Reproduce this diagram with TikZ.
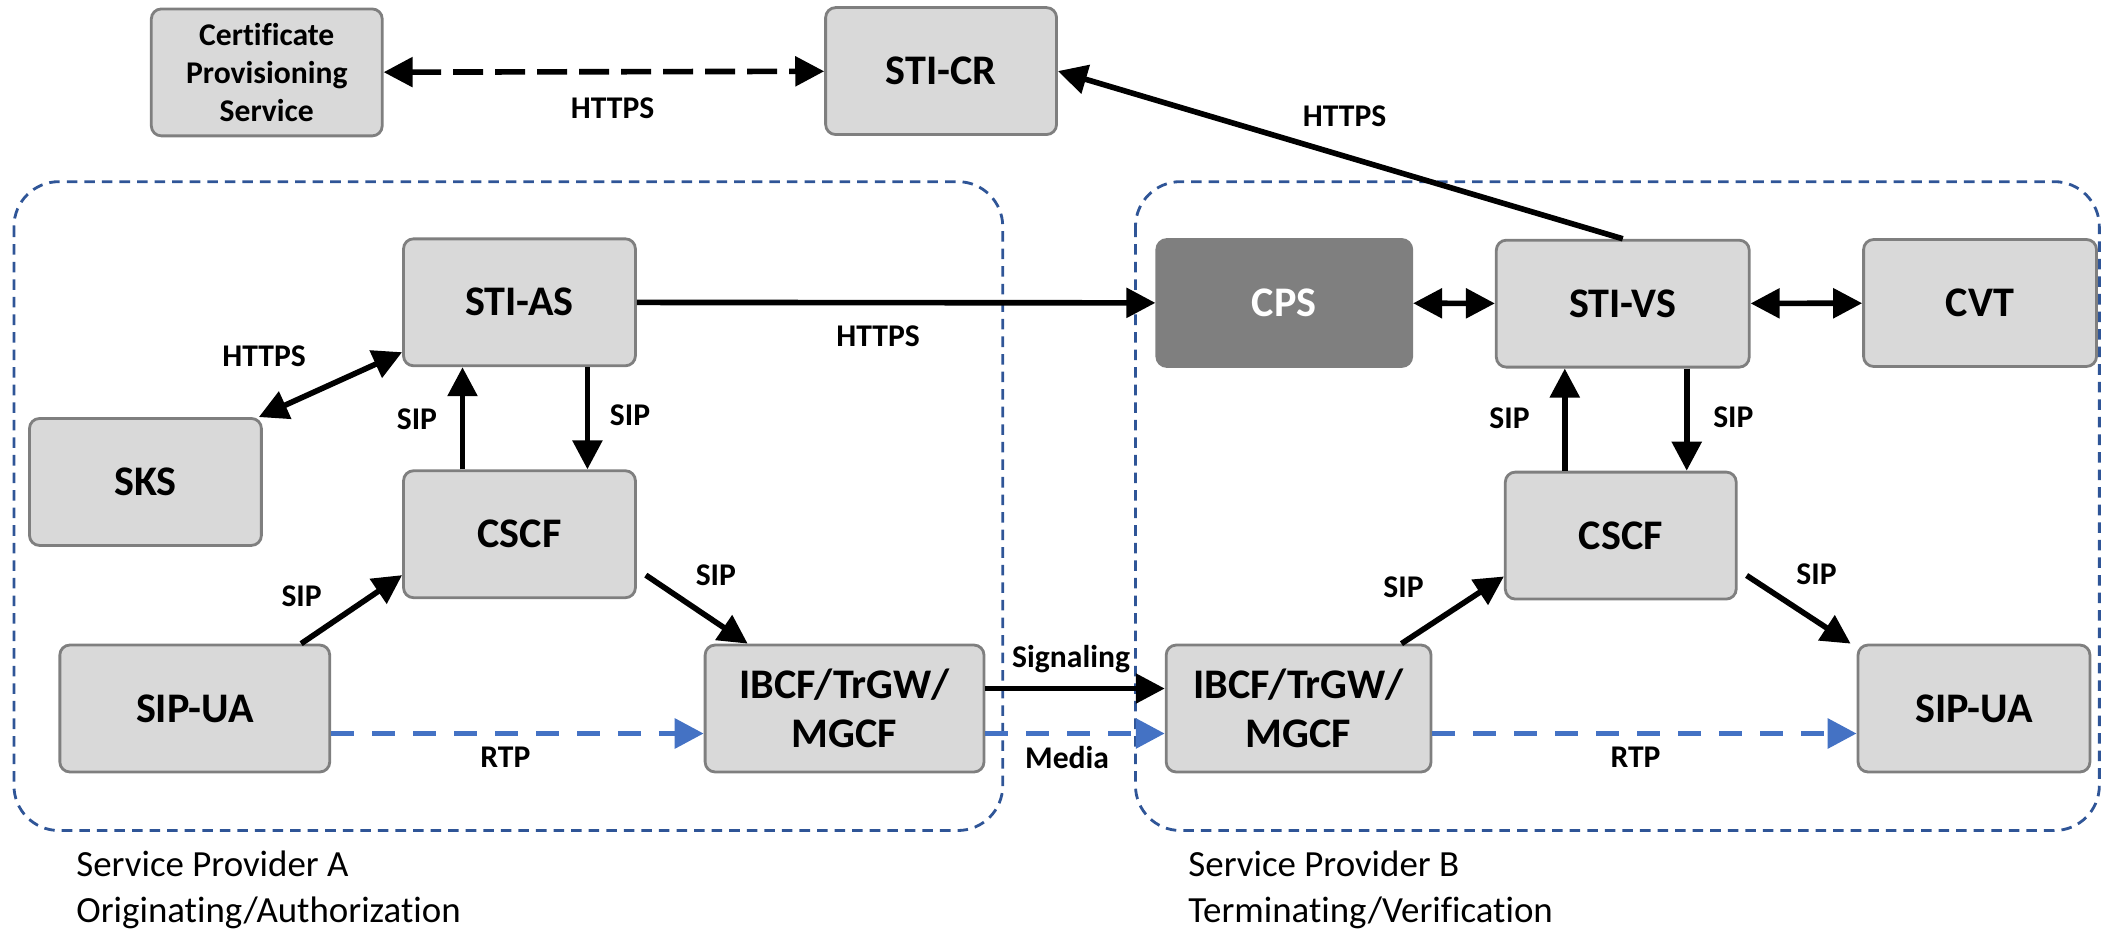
\documentclass[tikz,border=0pt]{standalone}
\usepackage{fontspec}
\setmainfont{Carlito}[Ligatures=NoCommon]
\usetikzlibrary{arrows.meta}
\definecolor{boxfill}{HTML}{D9D9D9}
\definecolor{boxline}{HTML}{7F7F7F}
\definecolor{cpsfill}{HTML}{7F7F7F}
\definecolor{bordoregione}{HTML}{2F5597}
\definecolor{blumedia}{HTML}{4472C4}

\begin{document}
\begin{tikzpicture}[x=0.013406cm, y=-0.013406cm, >={Triangle[length=0.29cm,width=0.29cm]},
    blocco/.style={draw=boxline, fill=boxfill, line width=0.8pt, rounded corners=0.1cm,
        minimum height=1.27cm, inner sep=0pt, align=center,
        font=\fontsize{12}{14}\selectfont\bfseries},
    etichetta/.style={inner sep=0pt, font=\fontsize{9}{11}\selectfont\bfseries},
    link/.style={line width=1.6pt},
    tratteggio/.style={line width=1.6pt, dash pattern=on 0.3cm off 0.12cm},
    rtp/.style={line width=1.7pt, blumedia, dash pattern=on 0.23cm off 0.18cm},
    regione/.style={draw=bordoregione, line width=0.8pt, dash pattern=on 3pt off 2pt,
        rounded corners=0.45cm}]
    \useasboundingbox (0,0) rectangle (1568,693);

    % Regioni dei due operatori
    \draw[regione] (10.4,135.5) rectangle (748,619.5);
    \draw[regione] (847,135.5) rectangle (1566,619.5);
    \node[anchor=base west, inner sep=0pt, font=\fontsize{10.5}{13}\selectfont] (spA) at (56.5,654) {Service Provider A};
    \node[anchor=base west, inner sep=0pt, font=\fontsize{10.5}{13}\selectfont] (origA) at (56.5,688) {Originating/Authorization};
    \node[anchor=base west, inner sep=0pt, font=\fontsize{10.5}{13}\selectfont] (spB) at (886,654) {Service Provider B};
    \node[anchor=base west, inner sep=0pt, font=\fontsize{10.5}{13}\selectfont] (termB) at (886,688) {Terminating/Verification};

    % Blocchi in alto
    \node[blocco, minimum width=2.31cm, font=\fontsize{9}{10.8}\selectfont\bfseries] (cert) at (199,54) {Certificate\\Provisioning\\Service};
    \node[blocco, minimum width=2.31cm] (sticr) at (702,53) {STI-CR};

    % Operatore A
    \node[blocco, minimum width=2.32cm] (stias) at (387.5,225.5) {STI-AS};
    \node[blocco, minimum width=2.32cm] (sks) at (108.5,359.5) {SKS};
    \node[blocco, minimum width=2.32cm] (cscfA) at (387.5,398.5) {CSCF};
    \node[blocco, minimum width=2.70cm] (sipuaA) at (145.3,528.5) {SIP-UA};
    \node[blocco, minimum width=2.79cm] (ibcfA) at (630,528.5) {IBCF/TrGW/\\MGCF};

    % Operatore B
    \node[blocco, minimum width=2.55cm, fill=cpsfill, text=white] (cps) at (958,226) {CPS};
    \node[blocco, minimum width=2.53cm] (stivs) at (1210.5,226.5) {STI-VS};
    \node[blocco, minimum width=2.33cm] (cvt) at (1477,226) {CVT};
    \node[blocco, minimum width=2.31cm] (cscfB) at (1209,399.5) {CSCF};
    \node[blocco, minimum width=2.65cm] (ibcfB) at (968.7,528.5) {IBCF/TrGW/\\MGCF};
    \node[blocco, minimum width=2.32cm] (sipuaB) at (1472.5,528.5) {SIP-UA};

    % Collegamenti HTTPS
    \draw[tratteggio, <->] (cert) -- (sticr);
    \node[etichetta] (httpsCR) at (457,81) {HTTPS};
    \draw[link, ->] (stivs.north) -- (sticr.east);
    \node[etichetta] (httpsVS) at (1003,87) {HTTPS};
    \draw[link, ->] (stias) -- (cps);
    \node[etichetta] (httpsAS) at (655,251) {HTTPS};
    \draw[link, <->] ([xshift=-0.04cm]sks.north east) -- ([yshift=0.15cm]stias.south west);
    \node[etichetta] (httpsSKS) at (197,265.6) {HTTPS};
    \draw[link, <->] (cps) -- (stivs);
    \draw[link, <->] (stivs) -- (cvt);

    % SIP lato A
    \coordinate (suA) at ([xshift=-0.57cm]stias.south);
    \coordinate (giuA) at ([xshift=0.68cm]stias.south);
    \draw[link, ->] (suA |- cscfA.north) -- (suA);
    \draw[link, ->] (giuA) -- (giuA |- cscfA.north);
    \node[etichetta] (sipA1) at (311,313) {SIP};
    \node[etichetta] (sipA2) at (470,310) {SIP};
    \draw[link, ->] ([xshift=-0.3cm]sipuaA.north east) -- ([yshift=0.24cm]cscfA.south west);
    \node[etichetta] (sipA3) at (225,445) {SIP};
    \draw[link, ->] ([xshift=0.09cm,yshift=0.24cm]cscfA.south east) -- ([xshift=0.44cm]ibcfA.north west);
    \node[etichetta] (sipA4) at (534,429) {SIP};

    % SIP lato B
    \coordinate (suB) at ([xshift=-0.58cm]stivs.south);
    \coordinate (giuB) at ([xshift=0.64cm]stivs.south);
    \draw[link, ->] (suB |- cscfB.north) -- (suB);
    \draw[link, ->] (giuB) -- (giuB |- cscfB.north);
    \node[etichetta] (sipB1) at (1126,312) {SIP};
    \node[etichetta] (sipB2) at (1293,311) {SIP};
    \draw[link, ->] ([xshift=-0.31cm]ibcfB.north east) -- ([yshift=0.24cm]cscfB.south west);
    \node[etichetta] (sipB3) at (1047,438) {SIP};
    \draw[link, ->] ([xshift=0.09cm,yshift=0.25cm]cscfB.south east) -- ([xshift=-0.06cm]sipuaB.north west);
    \node[etichetta] (sipB4) at (1355,428) {SIP};

    % Interconnessione e media
    \draw[link, ->] ([yshift=0.2cm]ibcfA.east) -- ([yshift=0.2cm]ibcfB.west);
    \node[etichetta] (segnal) at (799,492) {Signaling};
    \draw[rtp, ->] ([yshift=-0.25cm]sipuaA.east) -- ([yshift=-0.25cm]ibcfA.west);
    \node[etichetta] (rtpA) at (377,565) {RTP};
    \draw[rtp, ->] ([yshift=-0.25cm]ibcfA.east) -- ([yshift=-0.25cm]ibcfB.west);
    \node[etichetta] (mediaAB) at (796,565) {Media};
    \draw[rtp, ->] ([yshift=-0.25cm]ibcfB.east) -- ([yshift=-0.25cm]sipuaB.west);
    \node[etichetta] (rtpB) at (1220,565) {RTP};
\end{tikzpicture}
\end{document}
